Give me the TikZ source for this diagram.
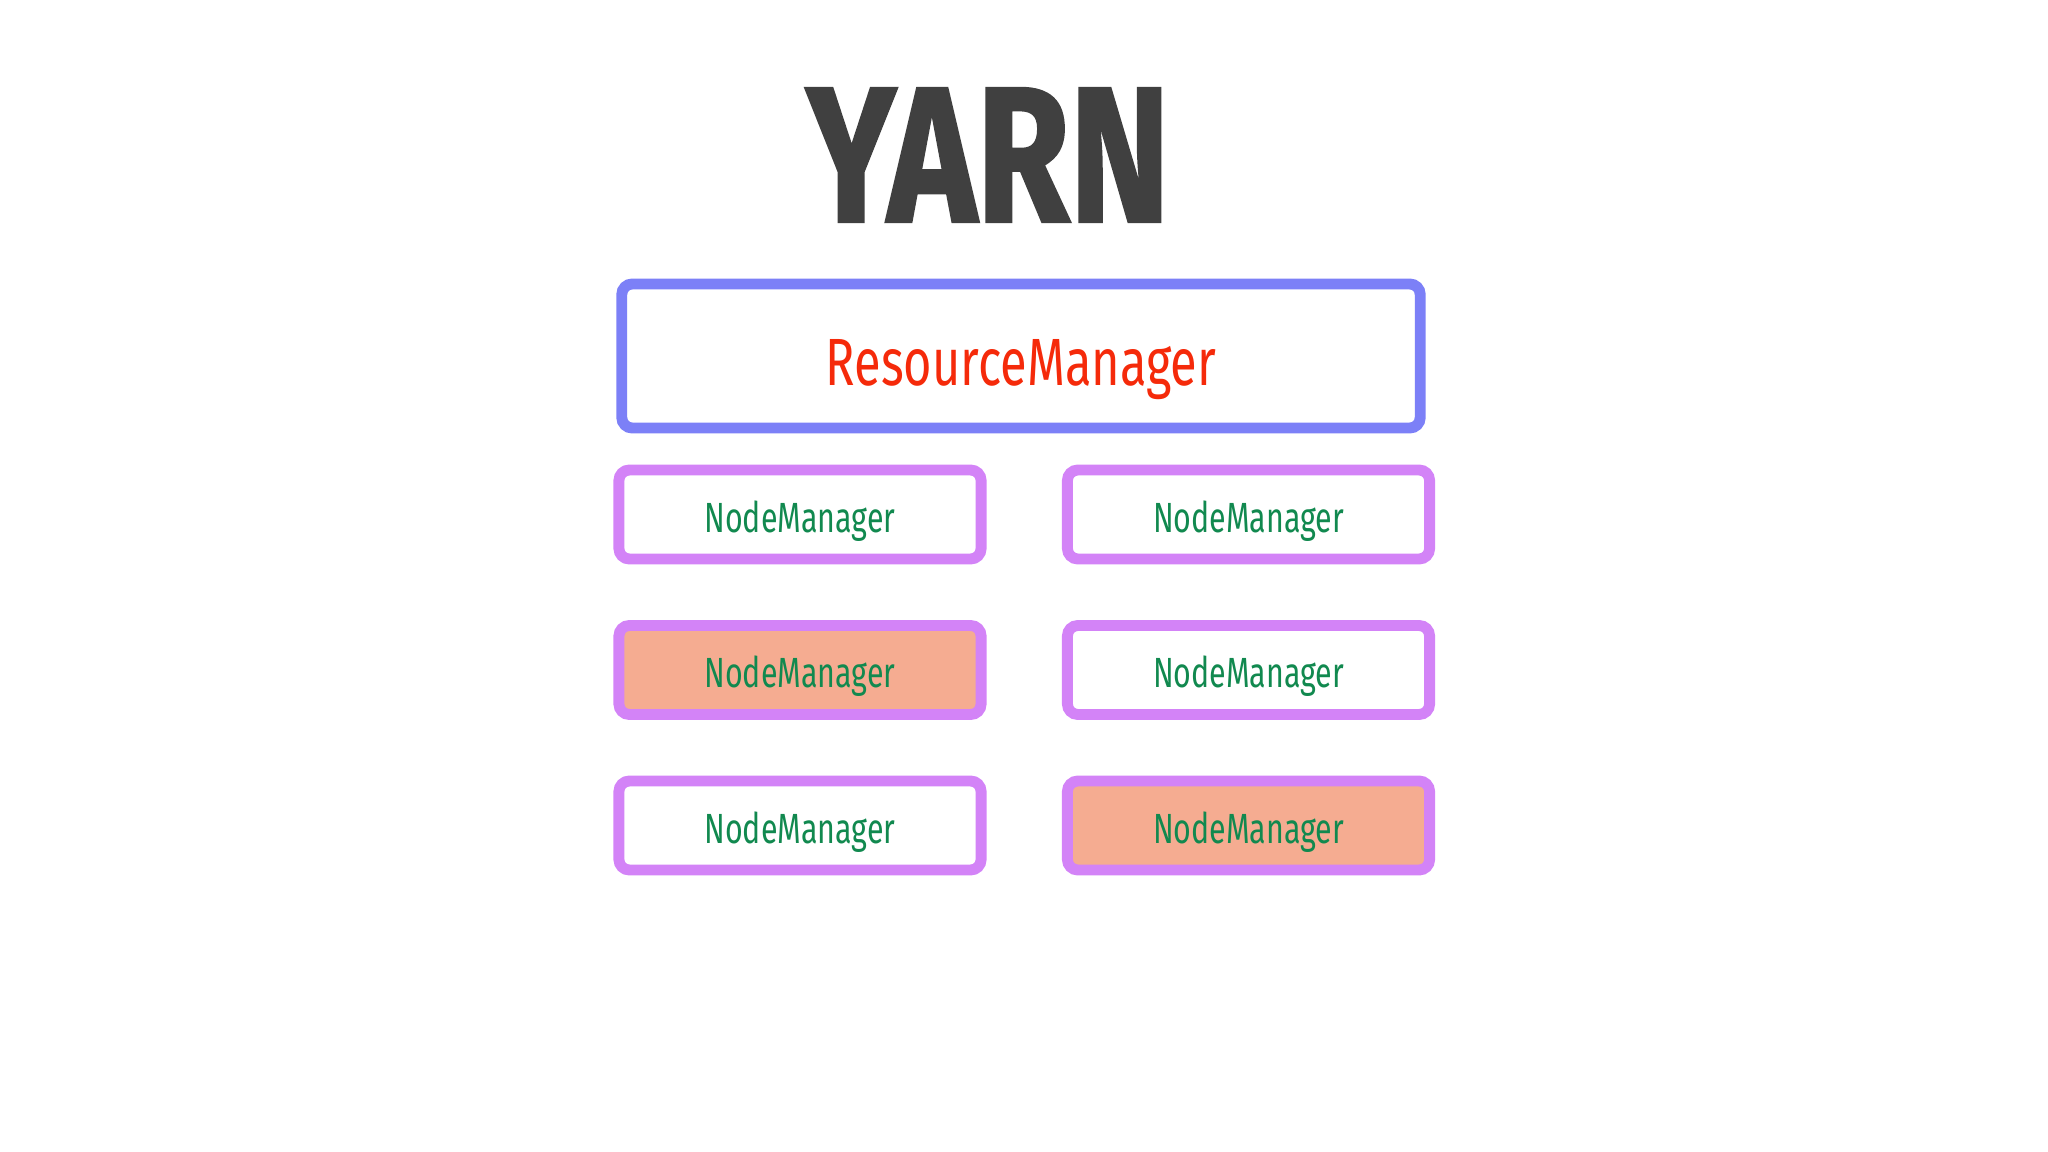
\documentclass[tikz,border=0pt]{standalone}
\usepackage{fontspec}
\setmainfont{Fira Sans}
\newfontfamily\handfont{Fira Sans}[FakeStretch=0.72]
\newfontfamily\bighandfont{Fira Sans}[FakeStretch=0.73]
\newfontfamily\titlefont{Fira Sans}[FakeStretch=0.78,FakeBold=1.2]
\usetikzlibrary{shadows}
\definecolor{rmblue}{HTML}{7C80F7}
\definecolor{nmpurple}{HTML}{D383F7}
\definecolor{busy}{HTML}{F5AC91}
\definecolor{nmgreen}{HTML}{11894F}
\definecolor{rmred}{HTML}{F52A0A}
\definecolor{ink}{HTML}{404040}
\tikzset{
  master/.style={draw=rmblue,fill=white,line width=3.1pt,rounded corners=3pt,drop shadow={shadow xshift=0.4pt,shadow yshift=-1pt,opacity=0.2},minimum width=7.98cm,minimum height=1.44cm,font=\bighandfont\fontsize{19}{21}\selectfont,text=rmred,text height=19pt,text depth=2.5pt},
  worker/.style={draw=nmpurple,fill=white,line width=3.1pt,rounded corners=3pt,drop shadow={shadow xshift=0.4pt,shadow yshift=-1pt,opacity=0.2},minimum width=3.62cm,minimum height=0.89cm,font=\handfont\fontsize{12}{14}\selectfont,text=nmgreen,text height=12pt,text depth=2pt},
  busyworker/.style={worker,fill=busy},
  heading/.style={font=\titlefont\bfseries\fontsize{55}{60}\selectfont,text=ink,anchor=base,inner sep=0pt}
}
\begin{document}
\begin{tikzpicture}[x=0.01cm,y=-0.01cm]
      \useasboundingbox (0,0) rectangle (2048,1152);
      \node[heading] (title) at (988,222) {YARN};

      \node[master] (resourcemanager) at (1021,356) {ResourceManager};

      \node[worker] (nodeA) at (800,514.5) {NodeManager};
      \node[worker] (nodeB) at (1248.5,514.5) {NodeManager};
      \node[busyworker] (nodeC) at (800,670) {NodeManager};
      \node[worker] (nodeD) at (1248.5,670) {NodeManager};
      \node[worker] (nodeE) at (800,825.5) {NodeManager};
      \node[busyworker] (nodeF) at (1248.5,825.5) {NodeManager};
    \end{tikzpicture}
\end{document}
